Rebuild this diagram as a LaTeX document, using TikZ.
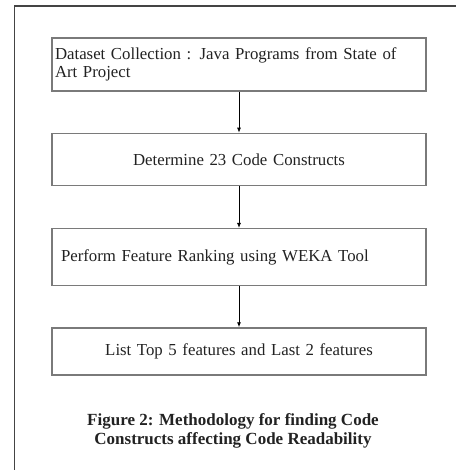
\documentclass[tikz,border=0pt]{standalone}
\usepackage{fontspec}
\setmainfont{Liberation Serif}
\usetikzlibrary{positioning,arrows.meta}
\definecolor{txtgray}{HTML}{222222}
\definecolor{boxgray}{HTML}{7A7A7A}
\definecolor{framegray}{HTML}{444444}
\tikzset{
    stepbox/.style={draw=boxgray, line width=1.3bp, minimum width=374bp, inner sep=0pt,
        text=txtgray, font=\fontsize{16.8bp}{18bp}\selectfont},
    flow/.style={-{Latex[length=5bp,width=4bp]}, line width=0.8bp, black}
}
\begin{document}
\begin{tikzpicture}[node distance=41bp]
    \useasboundingbox (0,0) rectangle (456bp,-470bp);
    \draw[framegray, line width=1.5bp] (14.5bp,-470bp) |- (456bp,-6bp);
    \node[stepbox, minimum height=53bp, text width=368bp, align=left] (collect) at (239bp,-64.5bp)
        {Dataset Collection : Java Programs from State of\\Art Project};
    \node[stepbox, minimum height=52bp, text width=374bp, align=center, below=of collect] (determine)
        {Determine 23 Code Constructs};
    \node[stepbox, minimum height=57bp, text width=356bp, align=left, below=42bp of determine] (rank)
        {Perform Feature Ranking using WEKA Tool};
    \node[stepbox, minimum height=47bp, text width=374bp, align=center, below=of rank] (list)
        {List Top 5 features and Last 2 features};
    \node[text=txtgray, align=center, font=\fontsize{17bp}{19.5bp}\selectfont\bfseries] (caption) at (233bp,-431bp)
        {Figure 2: Methodology for finding Code\\Constructs affecting Code Readability};
    \draw[flow] (collect) -- (determine);
    \draw[flow] (determine) -- (rank);
    \draw[flow] (rank) -- (list);
\end{tikzpicture}
\end{document}
